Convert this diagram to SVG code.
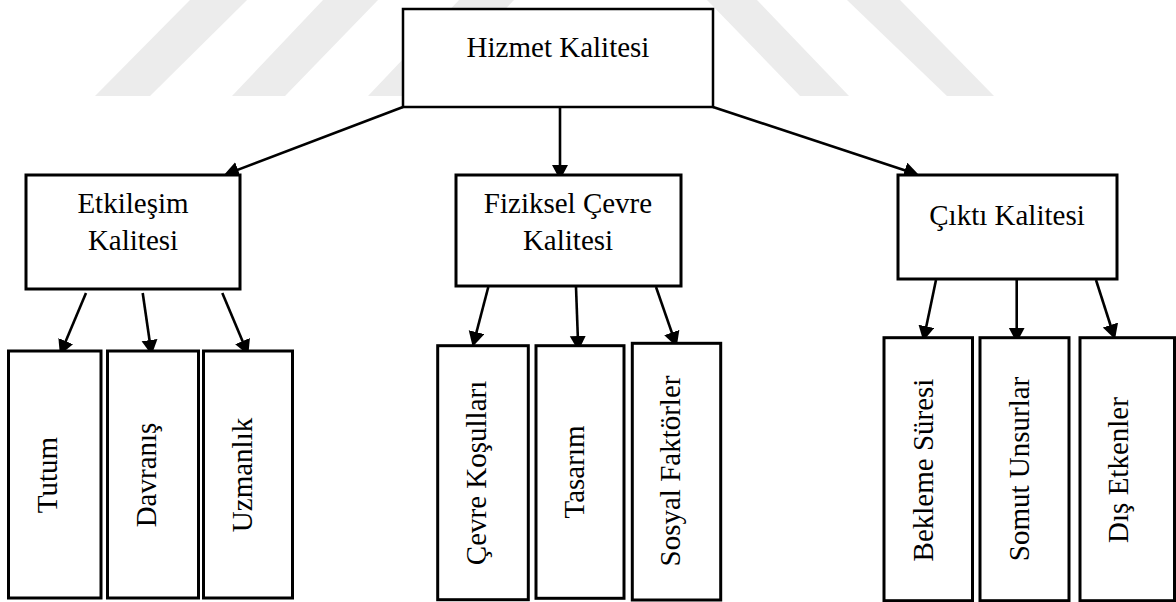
<svg xmlns="http://www.w3.org/2000/svg" width="1176" height="602" viewBox="0 0 1176 602">
<style>
.box{fill:#fff;stroke:#000;stroke-width:3}
.lbl{font-family:"Liberation Serif","Times New Roman",serif;font-size:29px;fill:#000;text-anchor:middle}
.con{stroke:#000;stroke-width:2.6;fill:none;marker-end:url(#ah)}
.wm{fill:#ececec}
</style>
<defs>
<marker id="ah" markerUnits="userSpaceOnUse" markerWidth="16" markerHeight="17" refX="11" refY="8" orient="auto">
<path d="M0,0 L15,8 L0,16 z" fill="#000"/>
</marker>
</defs>
<rect width="1176" height="602" fill="#fff"/>
<g id="watermark">
<polygon class="wm" points="95,96 150,96 247,0 190,0"/>
<polygon class="wm" points="232,96 285,96 378,0 323,0"/>
<polygon class="wm" points="368,96 421,96 514,0 459,0"/>
<polygon class="wm" points="707,0 757,0 849,96 800,96"/>
<polygon class="wm" points="847,0 900,0 994,96 947,96"/>
</g>
<g id="connectors">
<line class="con" x1="403" y1="107" x2="227.7" y2="173.6"/>
<line class="con" x1="560" y1="107" x2="560" y2="176"/>
<line class="con" x1="713" y1="107" x2="915.2" y2="173.7"/>
<line class="con" x1="86" y1="293" x2="61.5" y2="351.3"/>
<line class="con" x1="142.7" y1="293" x2="151.1" y2="351"/>
<line class="con" x1="222.3" y1="293" x2="246.8" y2="351.3"/>
<line class="con" x1="488.3" y1="287" x2="473.7" y2="342.8"/>
<line class="con" x1="576" y1="287" x2="578.2" y2="347"/>
<line class="con" x1="656" y1="287" x2="675.4" y2="342.9"/>
<line class="con" x1="936" y1="280" x2="924.1" y2="337.1"/>
<line class="con" x1="1016.7" y1="280" x2="1016.7" y2="338.7"/>
<line class="con" x1="1096" y1="280" x2="1113.8" y2="335.5"/>
</g>
<g id="hizmet">
<rect class="box" x="403" y="9" width="310" height="98" style="stroke-width:2.5"/>
<text class="lbl" x="558" y="57">Hizmet Kalitesi</text>
</g>
<g id="etkilesim">
<rect class="box" x="26" y="175" width="214" height="114"/>
<text class="lbl" x="133" y="213">Etkileşim</text>
<text class="lbl" x="133" y="250">Kalitesi</text>
</g>
<g id="fiziksel">
<rect class="box" x="456" y="175" width="225" height="111"/>
<text class="lbl" x="568" y="213">Fiziksel Çevre</text>
<text class="lbl" x="568" y="250">Kalitesi</text>
</g>
<g id="cikti">
<rect class="box" x="898" y="175" width="219" height="104"/>
<text class="lbl" x="1007" y="225">Çıktı Kalitesi</text>
</g>
<g id="tutum">
<rect class="box" x="8.5" y="351" width="92.5" height="247"/>
<text class="lbl" transform="translate(56.7,475) rotate(-90)">Tutum</text>
</g>
<g id="davranis">
<rect class="box" x="107.5" y="351" width="91" height="247"/>
<text class="lbl" transform="translate(156,475) rotate(-90)">Davranış</text>
</g>
<g id="uzmanlik">
<rect class="box" x="203.5" y="351" width="89" height="247"/>
<text class="lbl" transform="translate(251.7,475) rotate(-90)">Uzmanlık</text>
</g>
<g id="cevre-kosullari">
<rect class="box" x="437.7" y="345.7" width="90.6" height="254"/>
<text class="lbl" transform="translate(486,473) rotate(-90)">Çevre Koşulları</text>
</g>
<g id="tasarim">
<rect class="box" x="536" y="345.7" width="88" height="252.6"/>
<text class="lbl" transform="translate(584.3,472) rotate(-90)">Tasarım</text>
</g>
<g id="sosyal-faktorler">
<rect class="box" x="632.3" y="343.3" width="88.4" height="256.7"/>
<text class="lbl" transform="translate(680,471) rotate(-90)">Sosyal Faktörler</text>
</g>
<g id="bekleme-suresi">
<rect class="box" x="884" y="337.7" width="88.5" height="263"/>
<text class="lbl" transform="translate(933.3,470) rotate(-90)">Bekleme Süresi</text>
</g>
<g id="somut-unsurlar">
<rect class="box" x="980" y="337.7" width="89" height="263"/>
<text class="lbl" transform="translate(1029.3,469) rotate(-90)">Somut Unsurlar</text>
</g>
<g id="dis-etkenler">
<rect class="box" x="1080" y="337.7" width="94.5" height="263"/>
<text class="lbl" transform="translate(1128.3,470) rotate(-90)">Dış Etkenler</text>
</g>
</svg>
